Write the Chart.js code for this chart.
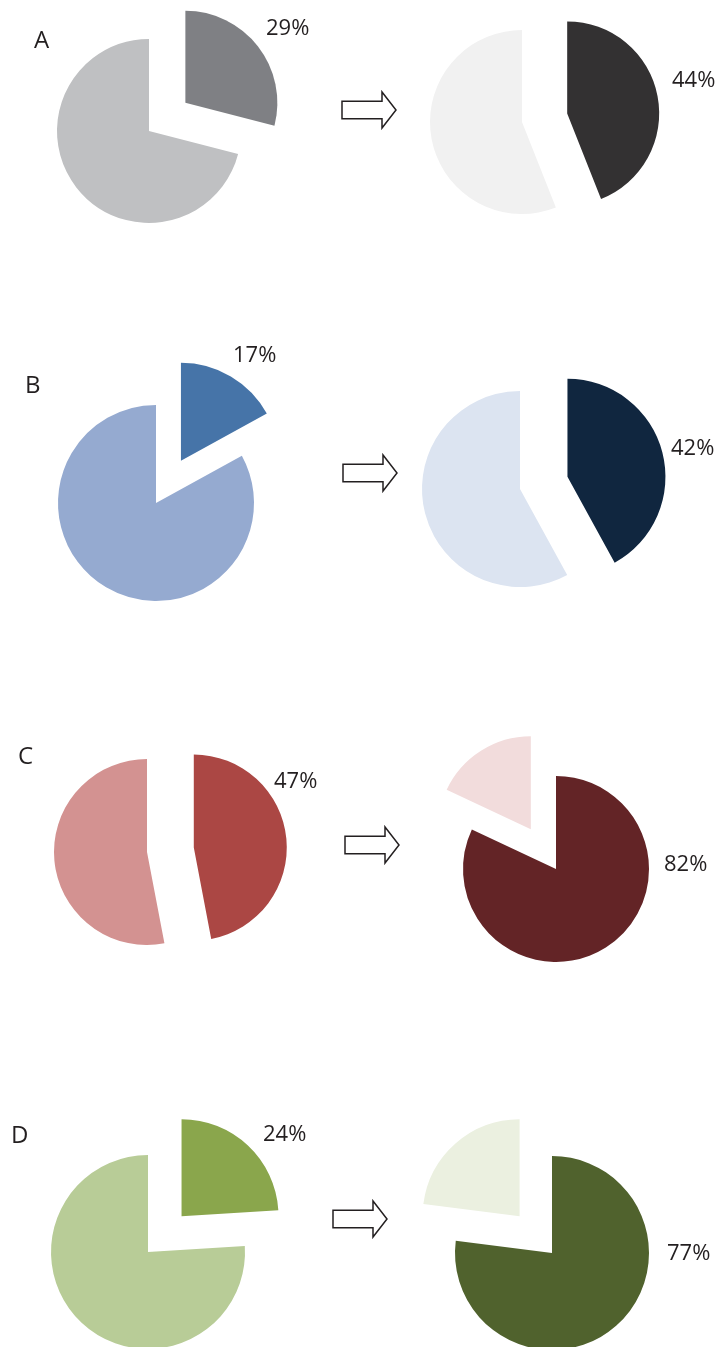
<!DOCTYPE html>
<html>
<head>
<meta charset="utf-8">
<script src="https://cdn.jsdelivr.net/npm/chart.js@4.4.1/dist/chart.umd.min.js"></script>
<style>
  html, body { margin: 0; padding: 0; background: #ffffff; }
  body { width: 722px; height: 1347px; position: relative; overflow: hidden;
         font-family: "Open Sans", "Noto Sans", sans-serif; color: #231f20; }
  canvas.pie { position: absolute; }
  .tag { position: absolute; font-size: 24px; line-height: 24px; white-space: nowrap; }
  svg.arrow { position: absolute; overflow: visible; z-index: 5; }
</style>
</head>
<body>
<script>
// ---- data ----
const groups = ['A', 'B', 'C', 'D'];
// highlighted share (%) and the remainder, before and after
const beforeShare = [29, 17, 47, 24];
const beforeRest  = [71, 83, 53, 76];
const afterShare  = [44, 42, 82, 77];
const afterRest   = [56, 58, 18, 23];

// ---- colours: [highlight, remainder] ----
const beforeColors = [
  ['#7f8084', '#bfc0c2'],
  ['#4674a8', '#95aad0'],
  ['#ab4744', '#d39291'],
  ['#8aa64c', '#b8cc97']
];
const afterColors = [
  ['#333132', '#f1f1f1'],
  ['#10263f', '#dce4f1'],
  ['#632426', '#f2dcdc'],
  ['#50622d', '#ebf0e0']
];

// ---- layout ----
const CW = 440, CH = 380;                       // canvas size per pie
const beforeCenter = [[149, 131], [156, 503], [147, 852], [148, 1252]];
const afterCenter  = [[522, 122], [520, 489], [556, 869], [552, 1253]];
const pieRadius    = [92, 98, 93, 97];
const pullOut      = [46, 49, 47, 49];
const beforeLabelAt = [[117, -96], [77, -141], [127, -64], [115, -111]];
const afterLabelAt  = [[150, -35], [151, -34], [108, 2], [115, 7]];
const tagAt   = [[34, 27], [25, 372], [18, 743], [11, 1122]];
const arrowAt = [[342, 110], [343, 473], [345, 845], [333, 1219]];

// pulls the smaller segment away from the centre along its mid-angle
const explodePlugin = {
  id: 'explode',
  afterDatasetsUpdate(chart, args, opts) {
    const meta = chart.getDatasetMeta(0);
    const arc = meta.data[opts.index];
    if (!arc) return;
    const mid = (arc.startAngle + arc.endAngle) / 2;
    arc.x += Math.cos(mid) * opts.distance;
    arc.y += Math.sin(mid) * opts.distance;
  }
};

// writes the highlighted share next to the pie
const shareLabelPlugin = {
  id: 'shareLabel',
  afterDatasetsDraw(chart, args, opts) {
    const { left, right, top, bottom } = chart.chartArea;
    const cx = (left + right) / 2, cy = (top + bottom) / 2;
    const value = chart.data.datasets[0].data[0];
    const ctx = chart.ctx;
    ctx.save();
    ctx.font = '22px "Open Sans", "Noto Sans", sans-serif';
    ctx.fillStyle = '#231f20';
    ctx.textAlign = 'left';
    ctx.textBaseline = 'alphabetic';
    ctx.fillText(value + '%', cx + opts.dx, cy + opts.dy);
    ctx.restore();
  }
};

function drawPie(center, share, rest, colors, radius, distance, labelAt) {
  const canvas = document.createElement('canvas');
  canvas.className = 'pie';
  canvas.width = CW;
  canvas.height = CH;
  canvas.style.width = CW + 'px';
  canvas.style.height = CH + 'px';
  canvas.style.left = (center[0] - CW / 2) + 'px';
  canvas.style.top = (center[1] - CH / 2) + 'px';
  document.body.appendChild(canvas);
  new Chart(canvas, {
    type: 'pie',
    data: {
      labels: ['share', 'rest'],
      datasets: [{
        data: [share, rest],
        backgroundColor: colors,
        borderWidth: 0,
        radius: radius
      }]
    },
    options: {
      responsive: false,
      animation: false,
      events: [],
      layout: { padding: 0 },
      plugins: {
        legend: { display: false },
        tooltip: { enabled: false },
        explode: { index: share <= rest ? 0 : 1, distance: distance },
        shareLabel: { dx: labelAt[0], dy: labelAt[1] }
      }
    },
    plugins: [explodePlugin, shareLabelPlugin]
  });
}

function drawArrow(pos) {
  const ns = 'http://www.w3.org/2000/svg';
  const svg = document.createElementNS(ns, 'svg');
  svg.setAttribute('class', 'arrow');
  svg.setAttribute('width', '56');
  svg.setAttribute('height', '38');
  svg.style.left = (pos[0] - 1) + 'px';
  svg.style.top = (pos[1] - 19) + 'px';
  const path = document.createElementNS(ns, 'path');
  path.setAttribute('d', 'M1 10.3 L41 10.3 L41 1 L55 19 L41 37 L41 27.7 L1 27.7 Z');
  path.setAttribute('fill', '#ffffff');
  path.setAttribute('stroke', '#231f20');
  path.setAttribute('stroke-width', '1.5');
  path.setAttribute('stroke-linejoin', 'miter');
  svg.appendChild(path);
  document.body.appendChild(svg);
}

groups.forEach((g, i) => {
  drawPie(beforeCenter[i], beforeShare[i], beforeRest[i], beforeColors[i], pieRadius[i], pullOut[i], beforeLabelAt[i]);
  drawPie(afterCenter[i], afterShare[i], afterRest[i], afterColors[i], pieRadius[i], pullOut[i], afterLabelAt[i]);
  drawArrow(arrowAt[i]);
  const tag = document.createElement('div');
  tag.className = 'tag';
  tag.textContent = g;
  tag.style.left = tagAt[i][0] + 'px';
  tag.style.top = tagAt[i][1] + 'px';
  document.body.appendChild(tag);
});
</script>
</body>
</html>
